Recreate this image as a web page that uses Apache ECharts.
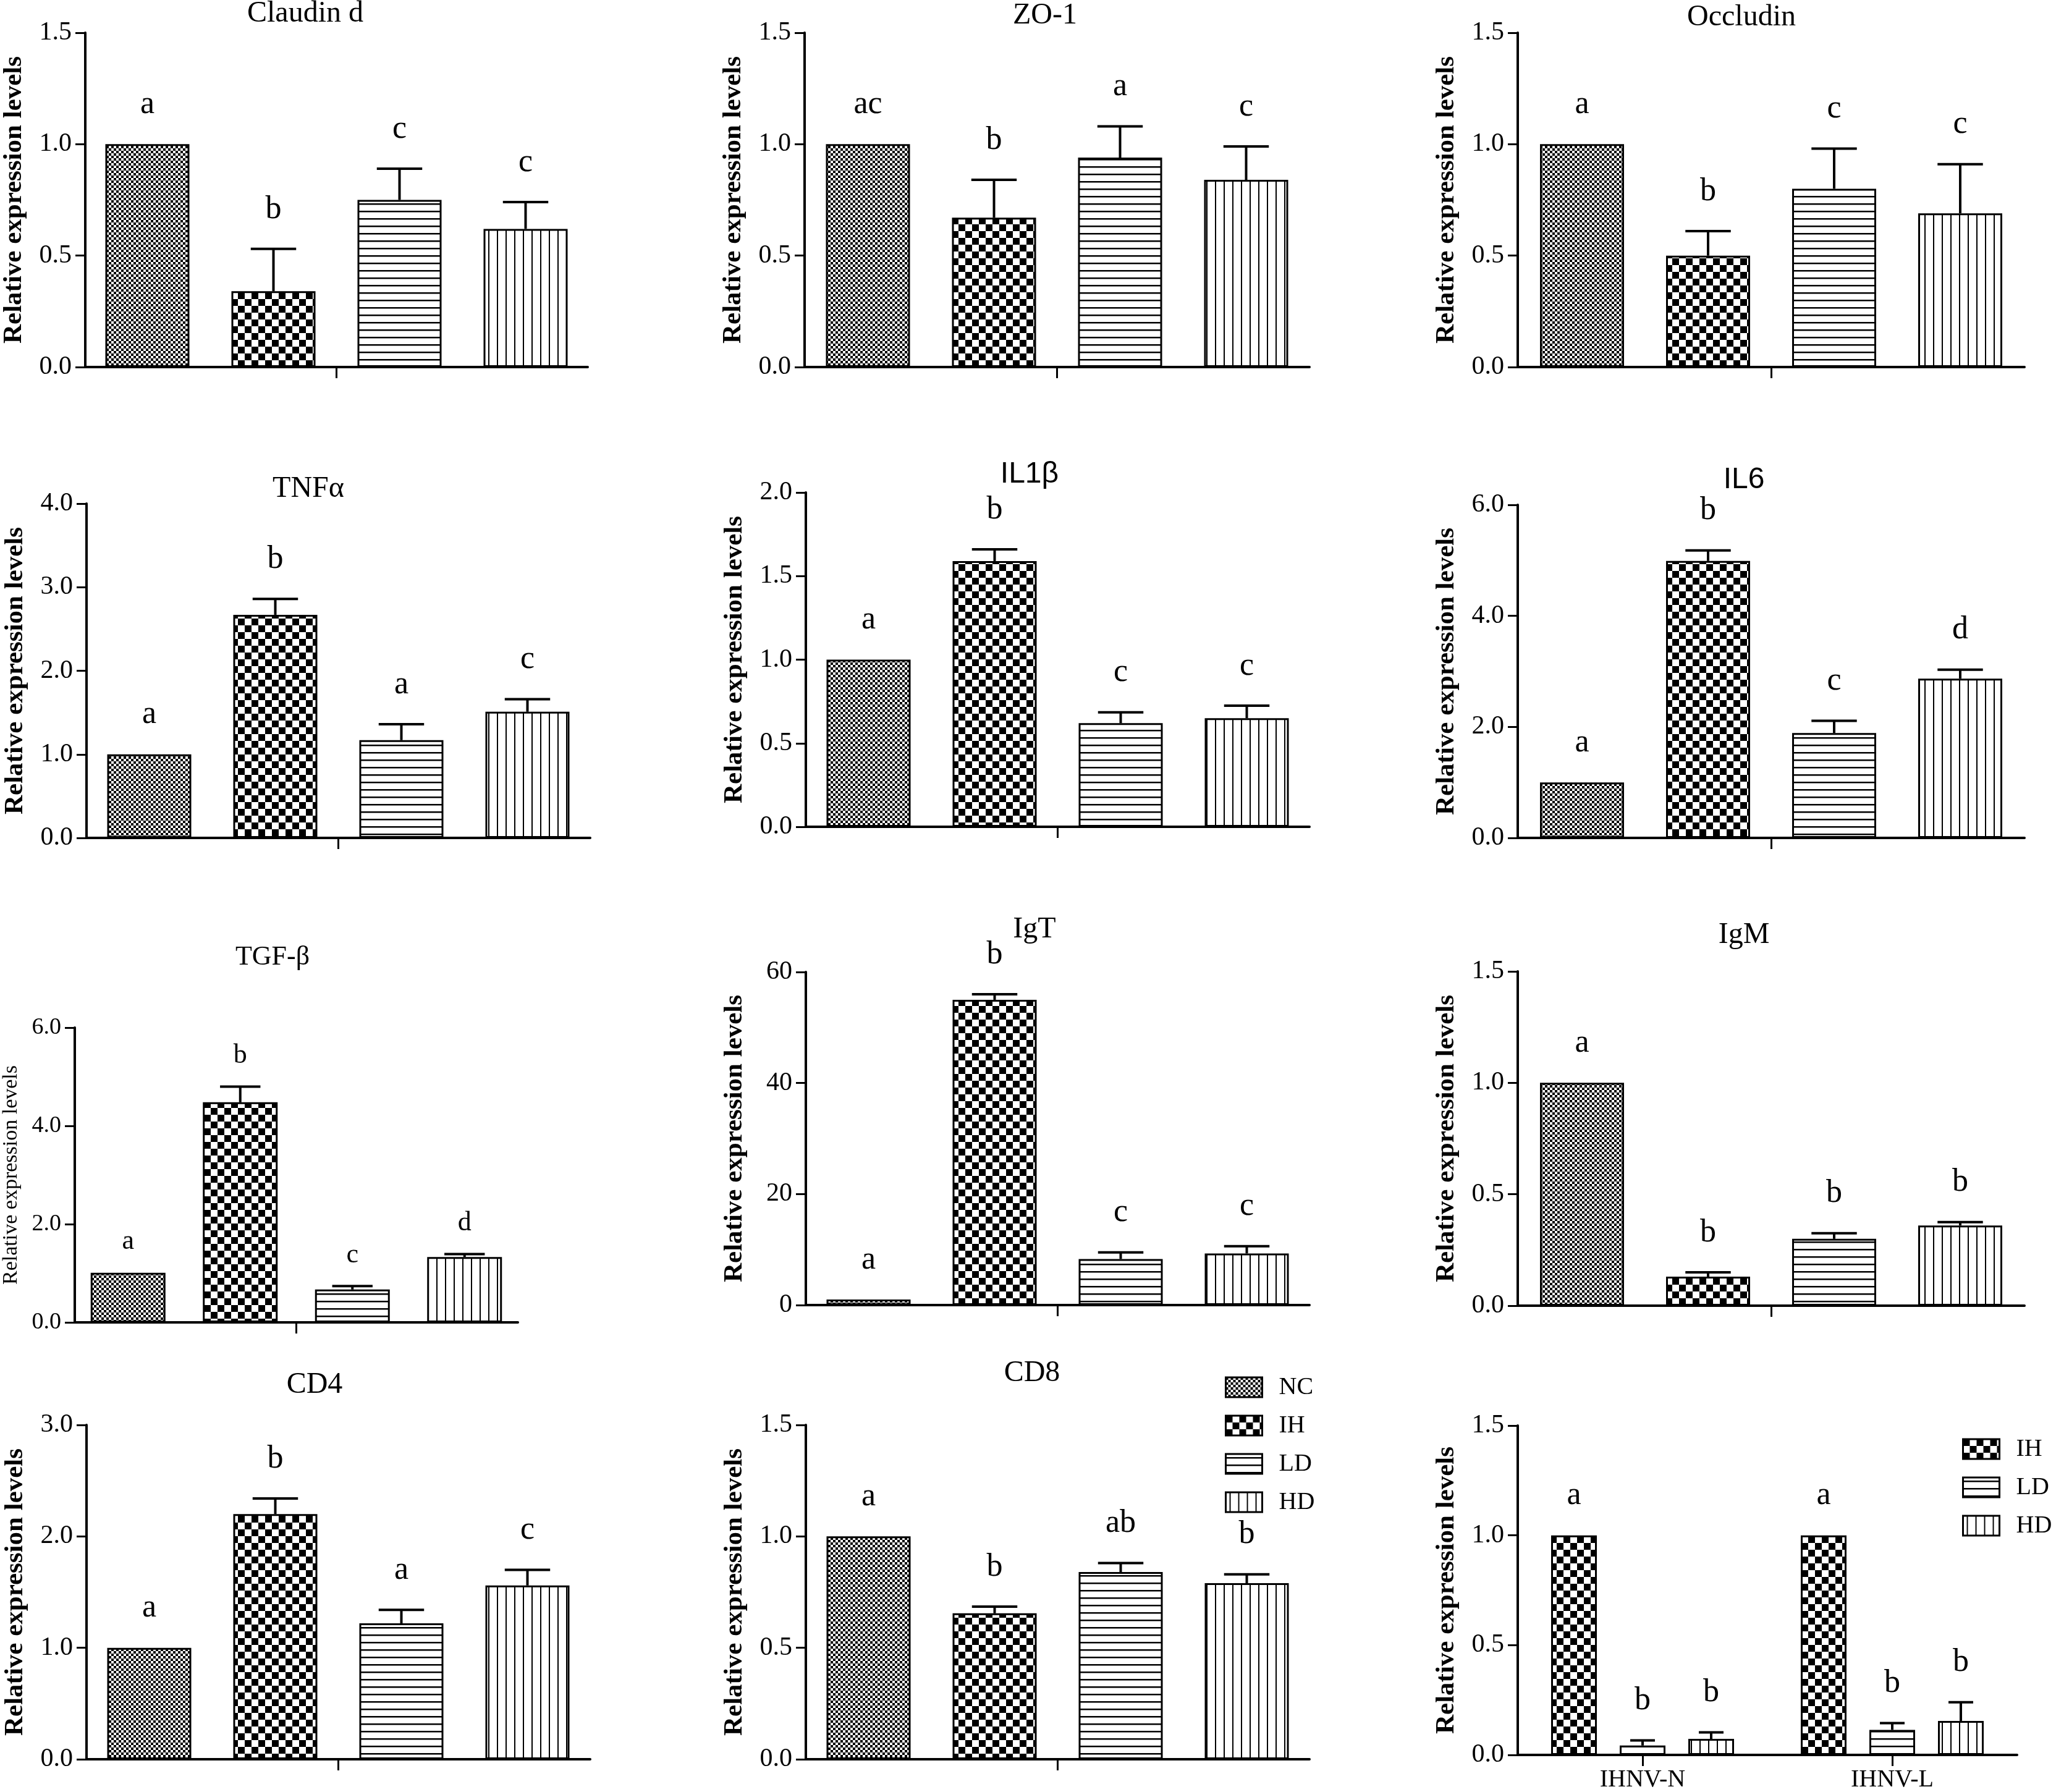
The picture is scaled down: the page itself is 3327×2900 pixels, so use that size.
<!DOCTYPE html>
<html>
<head>
<meta charset="utf-8">
<script src="https://cdn.jsdelivr.net/npm/echarts@6/dist/echarts.min.js"></script>
<style>
  html, body { margin: 0; padding: 0; background: #fff; }
  #main { width: 3327px; height: 2900px; }
</style>
</head>
<body>
<div id="main"></div>
<script>
// values (mean, upper error = SEM, significance letters)
const groups = ['NC', 'IH', 'LD', 'HD'];

const claudinMean = [1.00, 0.34, 0.75, 0.62];
const claudinSem  = [0, 0.19, 0.14, 0.12];
const claudinSig  = ['a', 'b', 'c', 'c'];

const zo1Mean = [1.00, 0.67, 0.94, 0.84];
const zo1Sem  = [0, 0.17, 0.14, 0.15];
const zo1Sig  = ['ac', 'b', 'a', 'c'];

const occludinMean = [1.00, 0.50, 0.80, 0.69];
const occludinSem  = [0, 0.11, 0.18, 0.22];
const occludinSig  = ['a', 'b', 'c', 'c'];

const tnfMean = [1.00, 2.67, 1.17, 1.51];
const tnfSem  = [0, 0.19, 0.19, 0.15];
const tnfSig  = ['a', 'b', 'a', 'c'];

const il1Mean = [1.00, 1.59, 0.62, 0.65];
const il1Sem  = [0, 0.07, 0.065, 0.075];
const il1Sig  = ['a', 'b', 'c', 'c'];

const il6Mean = [1.00, 4.99, 1.89, 2.87];
const il6Sem  = [0, 0.19, 0.22, 0.16];
const il6Sig  = ['a', 'b', 'c', 'd'];

const tgfMean = [1.01, 4.48, 0.67, 1.33];
const tgfSem  = [0, 0.32, 0.07, 0.06];
const tgfSig  = ['a', 'b', 'c', 'd'];

const igtMean = [1.0, 55.0, 8.3, 9.3];
const igtSem  = [0, 1.0, 1.2, 1.3];
const igtSig  = ['a', 'b', 'c', 'c'];

const igmMean = [1.00, 0.13, 0.30, 0.36];
const igmSem  = [0, 0.02, 0.025, 0.015];
const igmSig  = ['a', 'b', 'b', 'b'];

const cd4Mean = [1.00, 2.20, 1.22, 1.56];
const cd4Sem  = [0, 0.14, 0.12, 0.14];
const cd4Sig  = ['a', 'b', 'a', 'c'];

const cd8Mean = [1.00, 0.655, 0.84, 0.79];
const cd8Sem  = [0, 0.03, 0.04, 0.04];
const cd8Sig  = ['a', 'b', 'ab', 'b'];

const ihnvCats   = ['IHNV-N', 'IHNV-L'];
const ihnvGroups = ['IH', 'LD', 'HD'];
const ihnvMeanIH = [1.00, 1.00];
const ihnvMeanLD = [0.043, 0.114];
const ihnvMeanHD = [0.073, 0.155];
const ihnvSemIH  = [0, 0];
const ihnvSemLD  = [0.023, 0.031];
const ihnvSemHD  = [0.03, 0.085];
const ihnvSigIH  = ['a', 'a'];
const ihnvSigLD  = ['b', 'b'];
const ihnvSigHD  = ['b', 'b'];

const SERIF = '"Liberation Serif", "Times New Roman", serif';
const SANS = '"Liberation Sans Narrow", "Liberation Sans", Arial, sans-serif';

// fill patterns like the original hatching
function makePattern(kind) {
  const cv = document.createElement('canvas');
  const ctx = cv.getContext('2d');
  if (kind == 'fine') {
    cv.width = 8; cv.height = 8;
    ctx.fillStyle = '#fff'; ctx.fillRect(0, 0, 8, 8);
    ctx.fillStyle = '#000';
    ctx.fillRect(0, 0, 4, 4); ctx.fillRect(4, 4, 4, 4);
  } else if (kind == 'check') {
    cv.width = 22; cv.height = 22;
    ctx.fillStyle = '#fff'; ctx.fillRect(0, 0, 22, 22);
    ctx.fillStyle = '#000';
    ctx.fillRect(0, 0, 11, 11); ctx.fillRect(11, 11, 11, 11);
  } else if (kind == 'hline') {
    cv.width = 12; cv.height = 12;
    ctx.fillStyle = '#fff'; ctx.fillRect(0, 0, 12, 12);
    ctx.fillStyle = '#000'; ctx.fillRect(0, 5, 12, 2.5);
  } else {
    cv.width = 14; cv.height = 14;
    ctx.fillStyle = '#fff'; ctx.fillRect(0, 0, 14, 14);
    ctx.fillStyle = '#000'; ctx.fillRect(6, 0, 2, 14);
  }
  return { image: cv, repeat: 'repeat' };
}
const fills = {
  NC: makePattern('fine'),
  IH: makePattern('check'),
  LD: makePattern('hline'),
  HD: makePattern('vline')
};

// panel layout (pixels)
const panels = [
  { title: 'Claudin d', tx: 494, ty: 22, left: 134, top: 53, width: 817, height: 541, max: 1.5, step: 0.5,
    cats: [''], names: groups, means: claudinMean.map(v => [v]), sems: claudinSem.map(v => [v]), sigs: claudinSig.map(v => [v]) },
  { title: 'ZO-1', tx: 1691, ty: 25, left: 1302, top: 53, width: 817, height: 541, max: 1.5, step: 0.5,
    cats: [''], names: groups, means: zo1Mean.map(v => [v]), sems: zo1Sem.map(v => [v]), sigs: zo1Sig.map(v => [v]) },
  { title: 'Occludin', tx: 2818, ty: 28, left: 2456, top: 53, width: 820, height: 541, max: 1.5, step: 0.5,
    cats: [''], names: groups, means: occludinMean.map(v => [v]), sems: occludinSem.map(v => [v]), sigs: occludinSig.map(v => [v]) },

  { title: 'TNF\u03b1', tx: 499, ty: 791, left: 140, top: 815, width: 815, height: 541, max: 4, step: 1,
    cats: [''], names: groups, means: tnfMean.map(v => [v]), sems: tnfSem.map(v => [v]), sigs: tnfSig.map(v => [v]) },
  { title: 'IL1\u03b2', sans: true, tx: 1666, ty: 768, left: 1304, top: 797, width: 815, height: 541, max: 2, step: 0.5,
    cats: [''], names: groups, means: il1Mean.map(v => [v]), sems: il1Sem.map(v => [v]), sigs: il1Sig.map(v => [v]) },
  { title: 'IL6', sans: true, tx: 2822, ty: 777, left: 2456, top: 817, width: 820, height: 539, max: 6, step: 2,
    cats: [''], names: groups, means: il6Mean.map(v => [v]), sems: il6Sem.map(v => [v]), sigs: il6Sig.map(v => [v]) },

  { title: 'TGF-\u03b2', small: true, tx: 441, ty: 1549, left: 120, top: 1663, width: 718, height: 477, max: 6, step: 2,
    cats: [''], names: groups, means: tgfMean.map(v => [v]), sems: tgfSem.map(v => [v]), sigs: tgfSig.map(v => [v]) },
  { title: 'IgT', tx: 1674, ty: 1504, left: 1304, top: 1573, width: 815, height: 539, max: 60, step: 20, integer: true,
    cats: [''], names: groups, means: igtMean.map(v => [v]), sems: igtSem.map(v => [v]), sigs: igtSig.map(v => [v]) },
  { title: 'IgM', tx: 2822, ty: 1513, left: 2456, top: 1572, width: 820, height: 541, max: 1.5, step: 0.5,
    cats: [''], names: groups, means: igmMean.map(v => [v]), sems: igmSem.map(v => [v]), sigs: igmSig.map(v => [v]) },

  { title: 'CD4', tx: 509, ty: 2241, left: 140, top: 2306, width: 815, height: 541, max: 3, step: 1,
    cats: [''], names: groups, means: cd4Mean.map(v => [v]), sems: cd4Sem.map(v => [v]), sigs: cd4Sig.map(v => [v]) },
  { title: 'CD8', tx: 1670, ty: 2222, left: 1304, top: 2306, width: 815, height: 541, max: 1.5, step: 0.5,
    cats: [''], names: groups, means: cd8Mean.map(v => [v]), sems: cd8Sem.map(v => [v]), sigs: cd8Sig.map(v => [v]) },
  { title: '', left: 2456, top: 2307, width: 808, height: 541, max: 1.5, step: 0.5, barW: 74, showCats: true,
    cats: ihnvCats, names: ihnvGroups,
    means: [ihnvMeanIH, ihnvMeanLD, ihnvMeanHD],
    sems: [ihnvSemIH, ihnvSemLD, ihnvSemHD],
    sigs: [ihnvSigIH, ihnvSigLD, ihnvSigHD] }
];

const grid = [], xAxis = [], yAxis = [], series = [], graphic = [];

panels.forEach(function (p, gi) {
  const barW = p.barW || (p.small ? 121 : 136);
  const gapPx = barW * 0.5;
  const n = p.names.length;
  const letterSize = p.small ? 44 : 52;
  const letterOff = p.small ? 28 : 38;

  grid.push({ left: p.left, top: p.top, width: p.width, height: p.height });

  xAxis.push({
    type: 'category', gridIndex: gi, data: p.cats,
    axisLine: { lineStyle: { color: '#000', width: 4 } },
    axisTick: { show: true, alignWithLabel: true, length: 18, lineStyle: { color: '#000', width: 3 } },
    axisLabel: { show: !!p.showCats, margin: 20, color: '#000', fontFamily: SERIF, fontSize: 40 }
  });

  yAxis.push({
    type: 'value', gridIndex: gi, min: 0, max: p.max, interval: p.step,
    name: 'Relative expression levels', nameLocation: 'middle', nameRotate: 90,
    nameGap: p.small ? 86 : 94,
    nameTextStyle: { color: '#000', fontFamily: SERIF, fontSize: p.small ? 34 : 43, fontWeight: p.small ? 'normal' : 'bold' },
    axisLine: { show: true, lineStyle: { color: '#000', width: 4 } },
    axisTick: { show: true, length: 16, lineStyle: { color: '#000', width: 3 } },
    axisLabel: {
      margin: 22, color: '#000', fontFamily: SERIF, fontSize: p.small ? 38 : 42,
      formatter: function (v) { return p.integer ? String(v) : v.toFixed(1); }
    },
    splitLine: { show: false }
  });

  p.names.forEach(function (name, k) {
    series.push({
      type: 'bar', name: name, xAxisIndex: gi, yAxisIndex: gi,
      data: p.means[k], barWidth: barW, barGap: '50%',
      itemStyle: { color: fills[name], borderColor: '#000', borderWidth: 3 },
      silent: true
    });
  });

  // error bars (upper only) and significance letters
  const errData = [];
  p.names.forEach(function (name, k) {
    p.cats.forEach(function (c, ci) {
      errData.push([ci, k, p.means[k][ci] + p.sems[k][ci]]);
    });
  });
  series.push({
    type: 'custom', name: 'err' + gi, xAxisIndex: gi, yAxisIndex: gi,
    data: errData, encode: { x: 0, y: 2 }, clip: false, silent: true, z: 5,
    renderItem: function (params, api) {
      const ci = api.value(0), k = api.value(1);
      const m = p.means[k][ci], s = p.sems[k][ci];
      const cx = api.coord([ci, 0])[0] + (k - (n - 1) / 2) * (barW + gapPx);
      const yTop = api.coord([ci, m])[1];
      const yErr = api.coord([ci, m + s])[1];
      const half = barW * 0.27;
      const kids = [];
      if (s > 0) {
        kids.push({ type: 'line', shape: { x1: cx, y1: yTop, x2: cx, y2: yErr }, style: { stroke: '#000', lineWidth: 4 } });
        kids.push({ type: 'line', shape: { x1: cx - half, y1: yErr, x2: cx + half, y2: yErr }, style: { stroke: '#000', lineWidth: 4 } });
      }
      kids.push({
        type: 'text', x: cx, y: yErr - letterOff,
        style: { text: p.sigs[k][ci], fill: '#000', fontFamily: SERIF, fontSize: letterSize, align: 'center', verticalAlign: 'bottom' }
      });
      return { type: 'group', children: kids };
    }
  });

  if (p.title) {
    graphic.push({
      type: 'text', x: p.tx, y: p.ty, silent: true,
      style: {
        text: p.title, fill: '#000', fontFamily: p.sans ? SANS : SERIF,
        fontSize: p.small ? 44 : 48, align: 'center', verticalAlign: 'middle'
      }
    });
  }
});

const legendText = { color: '#000', fontFamily: SERIF, fontSize: 40, lineHeight: 32, padding: [0, 0, 0, 22] };

var myChart = echarts.init(document.getElementById('main'), null, { renderer: 'canvas' });
myChart.setOption({
  backgroundColor: '#fff',
  animation: false,
  grid: grid,
  xAxis: xAxis,
  yAxis: yAxis,
  legend: [
    {
      data: groups, orient: 'vertical', left: 1982, top: 2225, padding: 0, icon: 'rect',
      itemWidth: 59, itemHeight: 32, itemGap: 22, selectedMode: false,
      itemStyle: { borderColor: '#000', borderWidth: 3 }, textStyle: legendText
    },
    {
      data: ihnvGroups, orient: 'vertical', left: 3175, top: 2325, padding: 0, icon: 'rect',
      itemWidth: 59, itemHeight: 32, itemGap: 22, selectedMode: false,
      itemStyle: { borderColor: '#000', borderWidth: 3 }, textStyle: legendText
    }
  ],
  graphic: graphic,
  series: series
});
</script>
</body>
</html>
